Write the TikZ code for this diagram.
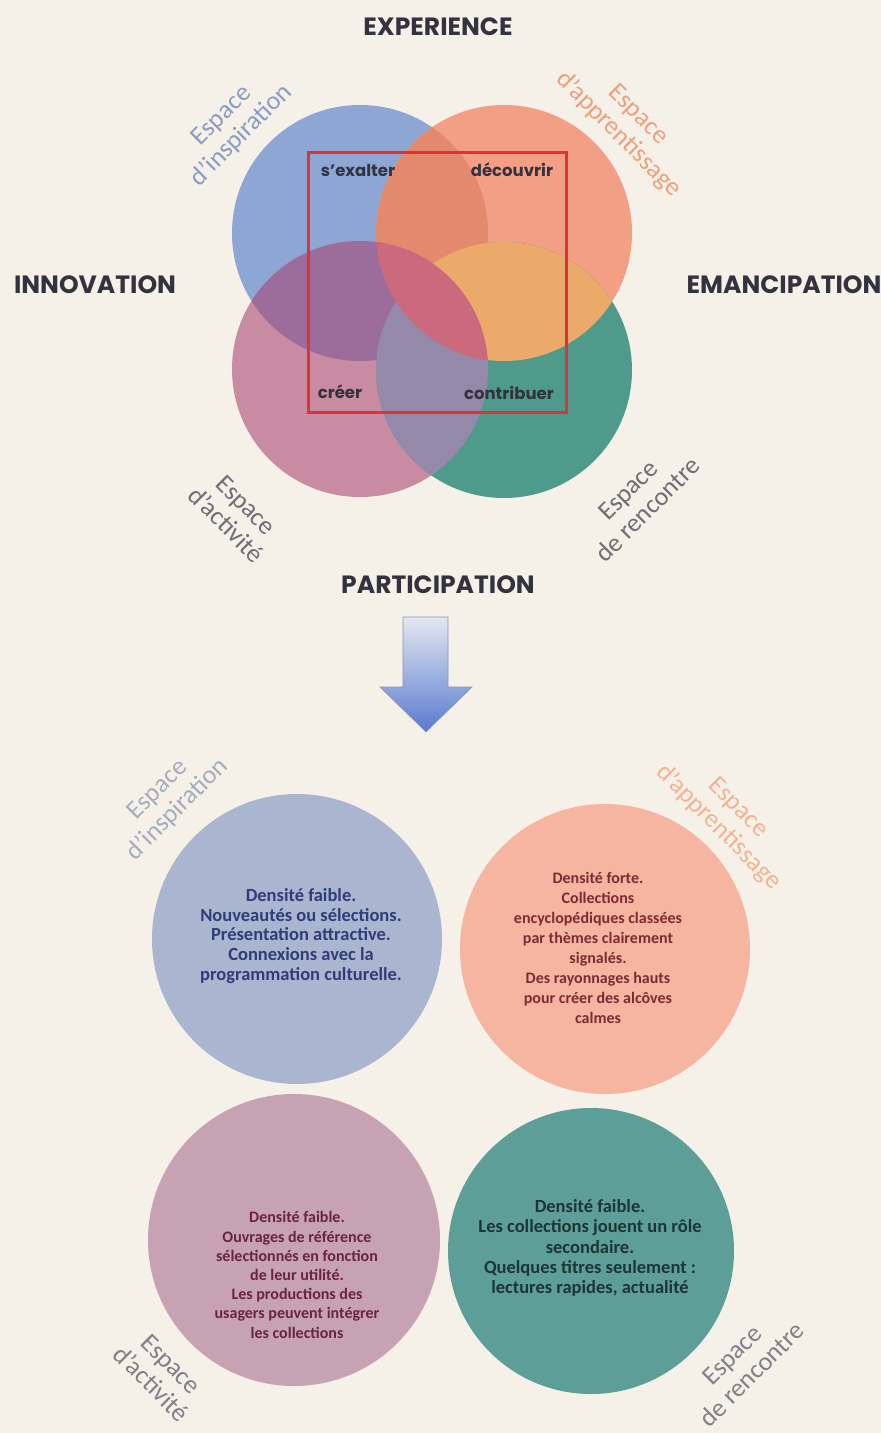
\documentclass[tikz,border=0pt]{standalone}
\usepackage{fontspec}
\setmainfont{Carlito}
\newfontfamily\headfont{Poppins}
\definecolor{bgc}{HTML}{F5F1E8}
\definecolor{cB}{HTML}{8EA6D4}
\definecolor{cO}{HTML}{F39F86}
\definecolor{cP}{HTML}{C98BA2}
\definecolor{cG}{HTML}{4E9A8B}
\definecolor{cBO}{HTML}{E38A6E}
\definecolor{cBP}{HTML}{9C6C9A}
\definecolor{cOP}{HTML}{CC6A7D}
\definecolor{cOG}{HTML}{EBAA6A}
\definecolor{cPG}{HTML}{9489A9}
\definecolor{rectc}{HTML}{DC3434}
\definecolor{headc}{HTML}{33333F}
\definecolor{labB}{HTML}{8A9BC4}
\definecolor{labO}{HTML}{EDA07C}
\definecolor{labG}{HTML}{6E6E76}
\definecolor{labBb}{HTML}{A5ADBC}
\definecolor{labOb}{HTML}{F3B391}
\definecolor{labGb}{HTML}{808088}
\definecolor{fB}{HTML}{AAB6CF}
\definecolor{fO}{HTML}{F5B5A0}
\definecolor{fP}{HTML}{C7A2B3}
\definecolor{fG}{HTML}{5E9E99}
\definecolor{tB}{HTML}{2F3D78}
\definecolor{tO}{HTML}{7C2B35}
\definecolor{tP}{HTML}{6A2345}
\definecolor{tG}{HTML}{1C3535}
\definecolor{arrtop}{HTML}{E2E7F0}
\definecolor{arrbot}{HTML}{5A7AD0}
\definecolor{arredge}{HTML}{8A96B0}
\begin{document}
\begin{tikzpicture}[x=1pt,y=-1pt,
  heading/.style={font=\headfont\bfseries\fontsize{25}{28}\selectfont, text=headc},
  verb/.style={font=\headfont\bfseries\fontsize{16.5}{18}\selectfont, text=headc},
  lab/.style={font=\fontsize{26}{28}\selectfont, align=center, inner sep=0pt},
  desc/.style={font=\bfseries\fontsize{16}{20}\selectfont, align=center, inner sep=0pt},
  descbig/.style={font=\bfseries\fontsize{18.5}{19.8}\selectfont, align=center, inner sep=0pt},
  disc/.style={circle, minimum size=#1, inner sep=0pt}]
\fill[bgc] (0,0) rectangle (881,1433);
\useasboundingbox (0,0) rectangle (881,1433);
% ---- top Venn ----
\coordinate (vB) at (360,233);
\coordinate (vO) at (504,233);
\coordinate (vP) at (360,369);
\coordinate (vG) at (504,370);
\def\R{128}
\fill[cB] (vB) circle[radius=\R];
\fill[cO] (vO) circle[radius=\R];
\fill[cP] (vP) circle[radius=\R];
\fill[cG] (vG) circle[radius=\R];
\begin{scope}\clip (vB) circle[radius=\R]; \fill[cBO] (vO) circle[radius=\R]; \end{scope}
\begin{scope}\clip (vB) circle[radius=\R]; \fill[cBP] (vP) circle[radius=\R]; \end{scope}
\begin{scope}\clip (vO) circle[radius=\R]; \fill[cOG] (vG) circle[radius=\R]; \end{scope}
\begin{scope}\clip (vP) circle[radius=\R]; \fill[cPG] (vG) circle[radius=\R]; \end{scope}
\begin{scope}\clip (vO) circle[radius=\R]; \fill[cOP] (vP) circle[radius=\R]; \end{scope}
\draw[rectc, line width=3pt] (308,152) rectangle (566,412);
\node[verb] (exalter) at (358,170) {s’exalter};
\node[verb] (decouvrir) at (512,170) {découvrir};
\node[verb] (creer) at (340,392) {créer};
\node[verb] (contribuer) at (509,393) {contribuer};
\node[heading] (experience) at (438,27) {EXPERIENCE};
\node[heading] (innovation) at (95,285) {INNOVATION};
\node[heading] (emancipation) at (784,285) {EMANCIPATION};
\node[heading] (participation) at (438,585) {PARTICIPATION};
\node[lab, text=labB, rotate=45] (tInsp) at (232,126) {Espace\\d’inspiration};
\node[lab, text=labO, rotate=-45] (tApp) at (628,125) {Espace\\d’apprentissage};
\node[lab, text=labG, rotate=-45] (tAct) at (236,515) {Espace\\d’activité};
\node[lab, text=labG, rotate=45] (tRen) at (638,500) {Espace\\de rencontre};
% ---- arrow ----
\shade[top color=arrtop, bottom color=arrbot, draw=arredge, line width=0.6pt]
  (403,617) -- (448,617) -- (448,687) -- (472,687) -- (426,732) -- (380,687) -- (403,687) -- cycle;
% ---- bottom discs ----
\node[disc=290, fill=fB] (dB) at (297,939) {};
\node[disc=290, fill=fO] (dO) at (605,949) {};
\node[disc=292, fill=fP] (dP) at (294,1240) {};
\node[disc=286, fill=fG] (dG) at (591,1251) {};
\node[descbig, text=tB] (xB) at (301,936) {Densité faible.\\Nouveautés ou sélections.\\Présentation attractive.\\Connexions avec la\\programmation culturelle.};
\node[desc, text=tO] (xO) at (598,948) {Densité forte.\\Collections\\encyclopédiques classées\\par thèmes clairement\\signalés.\\Des rayonnages hauts\\pour créer des alcôves\\calmes};
\node[desc, text=tP, font=\bfseries\fontsize{16}{19.2}\selectfont] (xP) at (297,1275) {Densité faible.\\Ouvrages de référence\\sélectionnés en fonction\\de leur utilité.\\Les productions des\\usagers peuvent intégrer\\les collections};
\node[descbig, text=tG, font=\bfseries\fontsize{18.5}{20.2}\selectfont] (xG) at (590,1248) {Densité faible.\\Les collections jouent un rôle\\secondaire.\\Quelques titres seulement :\\lectures rapides, actualité};
\node[lab, text=labBb, rotate=45] (bInsp) at (168,800) {Espace\\d’inspiration};
\node[lab, text=labOb, rotate=-45] (bApp) at (728,818) {Espace\\d’apprentissage};
\node[lab, text=labGb, rotate=-45] (bAct) at (161,1374) {Espace\\d’activité};
\node[lab, text=labGb, rotate=45] (bRen) at (742,1365) {Espace\\de rencontre};
\end{tikzpicture}
\end{document}
